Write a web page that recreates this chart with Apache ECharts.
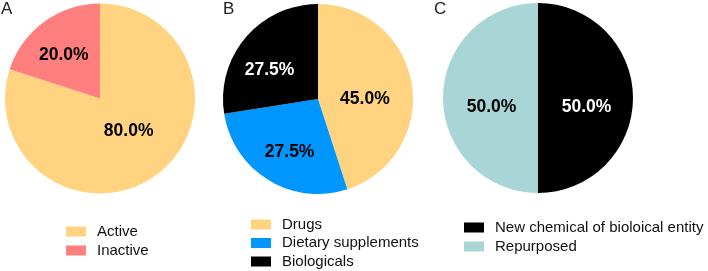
<!DOCTYPE html>
<html>
<head>
<meta charset="utf-8">
<script src="https://cdn.jsdelivr.net/npm/echarts@6/dist/echarts.min.js"></script>
<style>
  html, body { margin: 0; padding: 0; background: #fff; }
  #chart { width: 708px; height: 271px; }
</style>
</head>
<body>
<div id="chart"></div>
<script>
// datos de los tres paneles
const panelTitles = ['A', 'B', 'C'];

const statusNames = ['Active', 'Inactive'];
const statusValues = [80.0, 20.0];

const typeNames = ['Drugs', 'Dietary supplements', 'Biologicals'];
const typeValues = [45.0, 27.5, 27.5];

const originNames = ['New chemical of bioloical entity', 'Repurposed'];
const originValues = [50.0, 50.0];

// colores por panel
const statusColors = ['#FFD37F', '#FF7F7F'];
const typeColors = ['#FFD37F', '#0096FF', '#000000'];
const originColors = ['#000000', '#A8D5D6'];

// ajustes finos de la posición de las etiquetas (dx, dy)
const labelShift = [
  [[-1, -8], [-6.5, -2]],
  [[-3, 8.5], [-2, 10], [-10, 4]],
  [[-2, 9], [4, 9]]
];

const chart = echarts.init(document.getElementById('chart'));

function toItems(names, values, colors) {
  return names.map((n, i) => ({
    name: n,
    value: values[i],
    itemStyle: { color: colors[i] },
    label: { color: colors[i] === '#000000' ? '#fff' : '#000' }
  }));
}

function pieSeries(idx, cx, cy, items) {
  return {
    type: 'pie',
    center: [cx, cy],
    radius: [0, 95],
    startAngle: 90,
    clockwise: true,
    silent: true,
    animation: false,
    avoidLabelOverlap: false,
    data: items,
    itemStyle: { borderWidth: 0 },
    label: {
      show: true,
      position: 'inside',
      formatter: p => p.value.toFixed(1) + '%',
      fontFamily: 'Liberation Sans, Arial, sans-serif',
      fontWeight: 'bold',
      fontSize: 17.5
    },
    labelLine: { show: false },
    labelLayout: p => {
      const s = labelShift[idx][p.dataIndex] || [0, 0];
      return { dx: s[0], dy: s[1] };
    }
  };
}

function legendFor(names, left, top, gap) {
  return {
    data: names,
    orient: 'vertical',
    left: left,
    top: top,
    padding: 0,
    icon: 'rect',
    itemWidth: 20,
    itemHeight: 10,
    itemGap: gap,
    selectedMode: false,
    textStyle: {
      fontFamily: 'Liberation Sans, Arial, sans-serif',
      fontSize: 15,
      color: '#111',
      padding: [0, 0, 0, 6]
    }
  };
}

const titleX = [1, 223, 434];

const option = {
  backgroundColor: '#fff',
  title: panelTitles.map((t, i) => ({
    text: t,
    left: titleX[i],
    top: 1,
    padding: 0,
    textStyle: {
      fontFamily: 'Liberation Sans, Arial, sans-serif',
      fontWeight: 'normal',
      fontSize: 17,
      color: '#222'
    }
  })),
  legend: [
    legendFor(statusNames, 66, 224, 4),
    legendFor(typeNames, 251, 217, 3.5),
    legendFor(originNames, 464, 220, 4)
  ],
  series: [
    pieSeries(0, 100, 98.5, toItems(statusNames, statusValues, statusColors)),
    pieSeries(1, 318, 99, toItems(typeNames, typeValues, typeColors)),
    pieSeries(2, 538, 98, toItems(originNames, originValues, originColors))
  ]
};

chart.setOption(option);
</script>
</body>
</html>
